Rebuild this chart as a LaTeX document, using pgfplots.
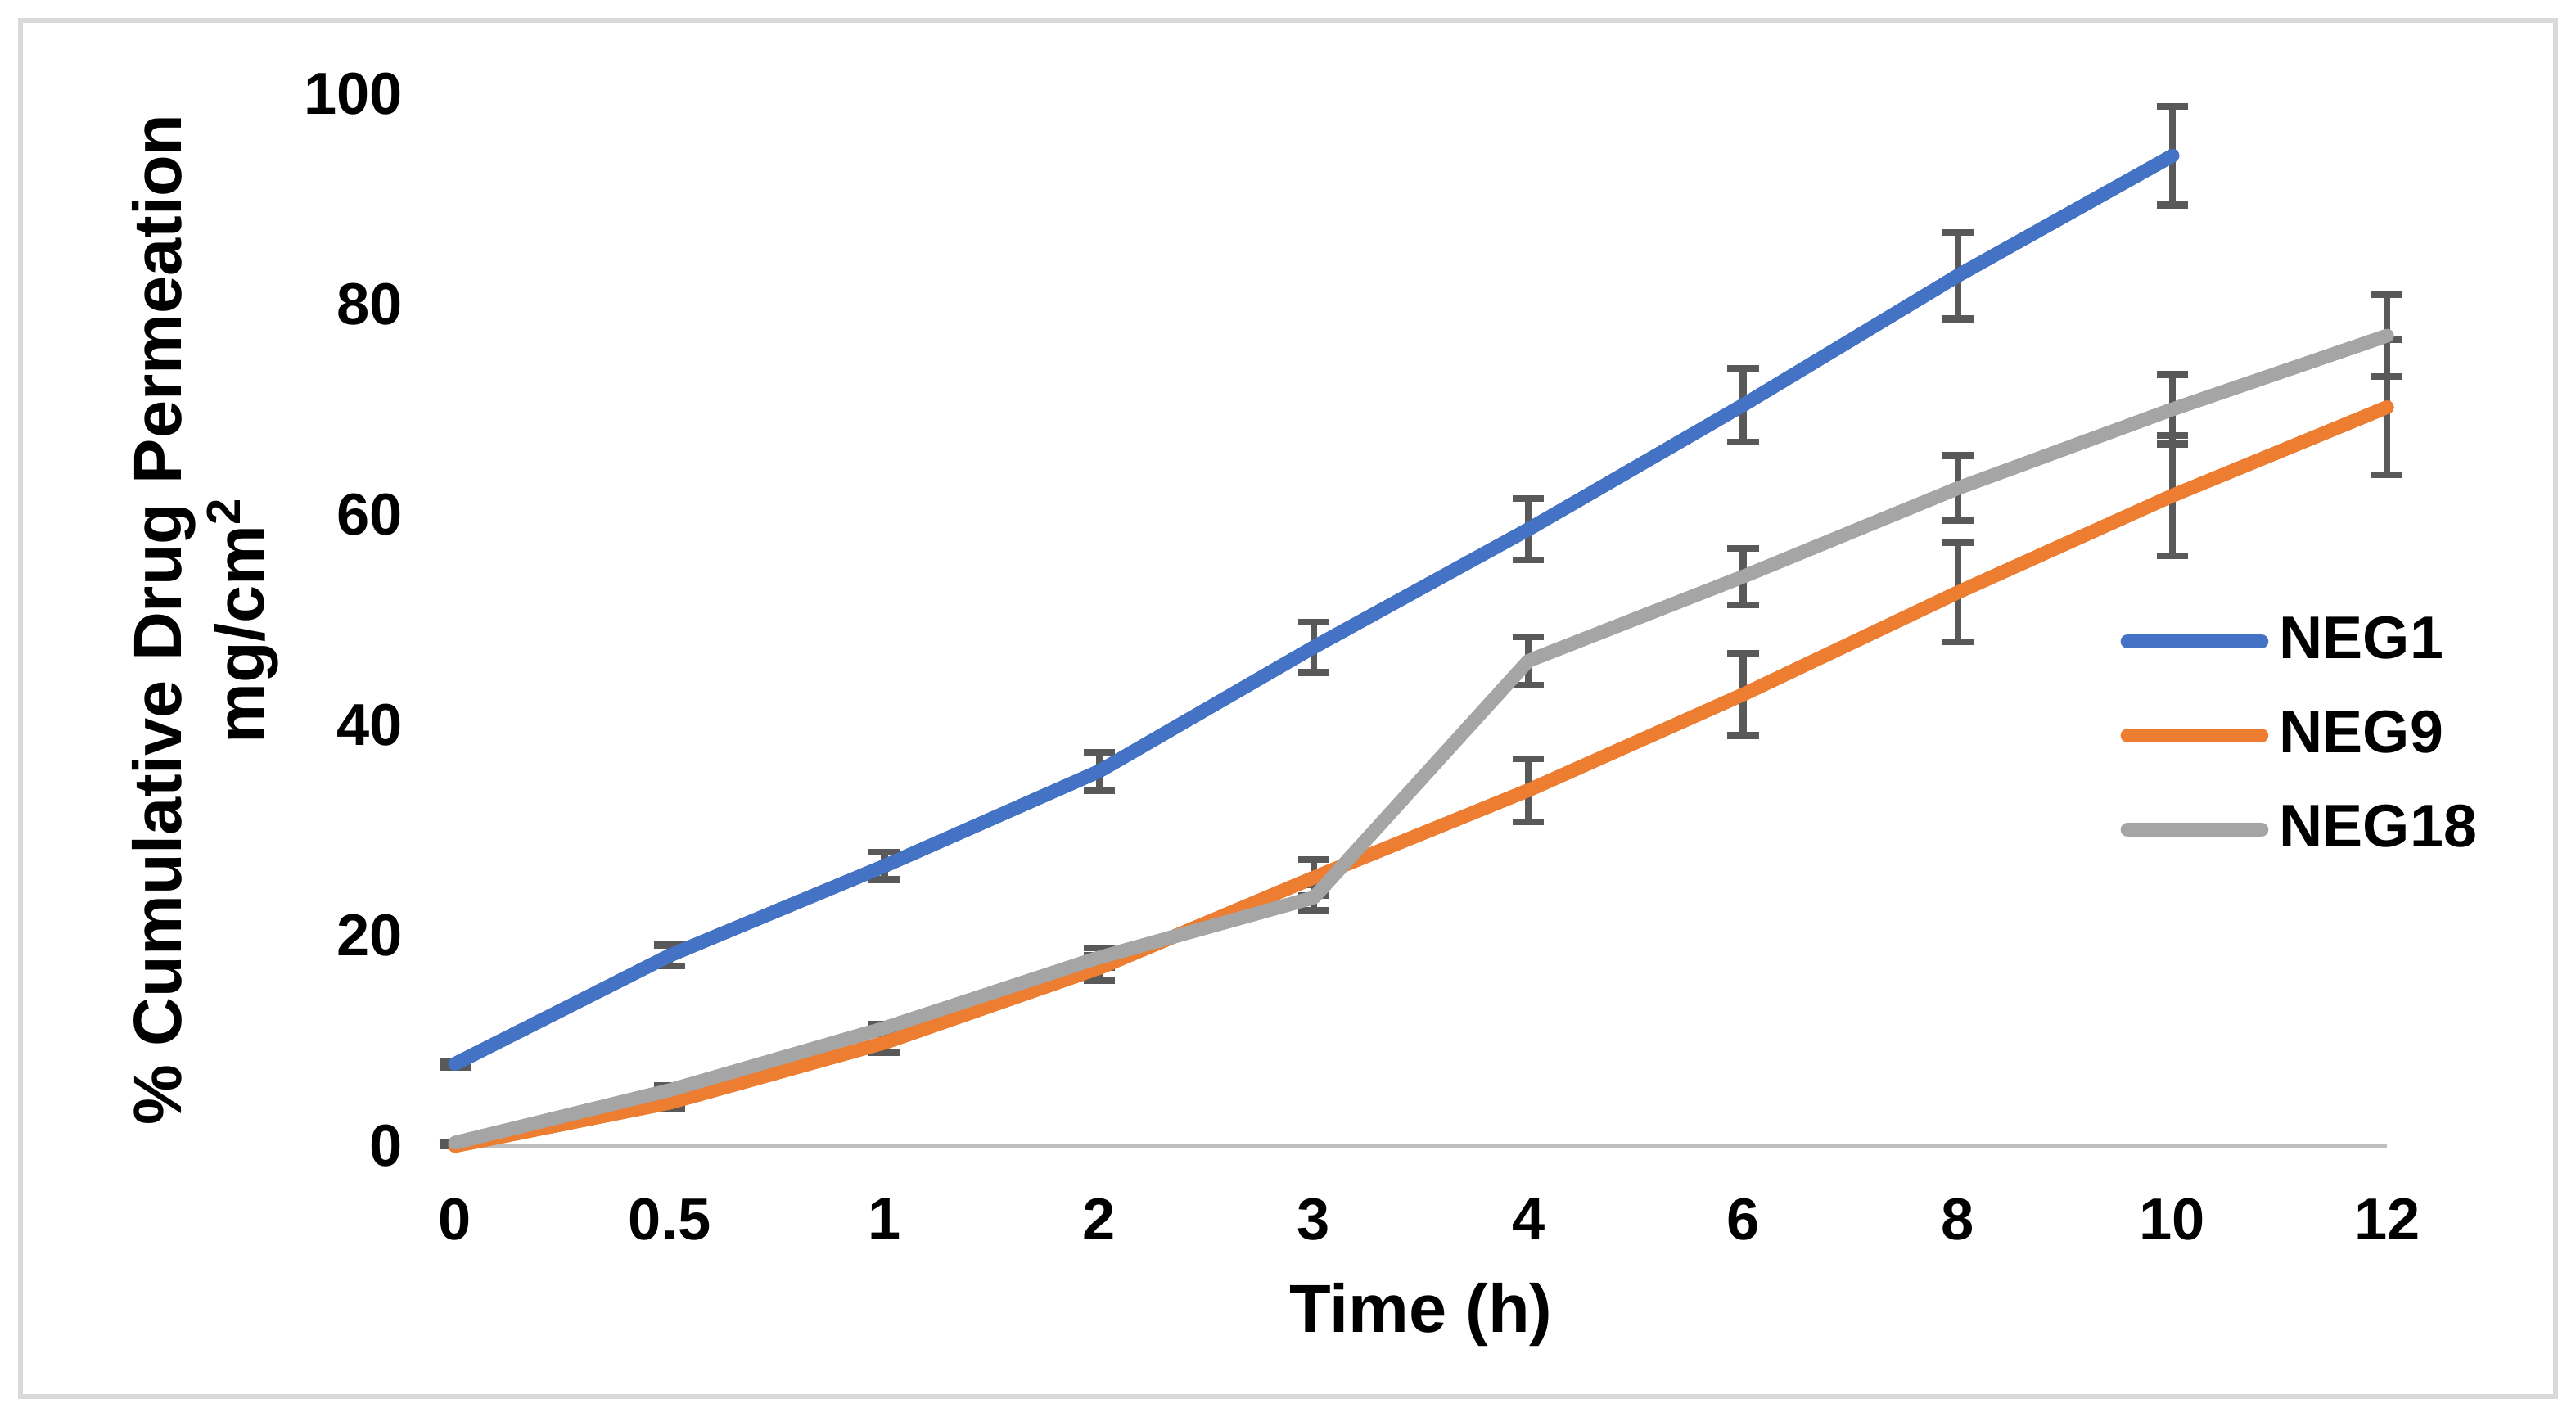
\documentclass[border=0pt]{standalone}
\usepackage{fontspec}
\setmainfont{Liberation Sans}
\usepackage{pgfplots}
\usepackage{pgfplotstable}
\pgfplotsset{compat=1.18}
\definecolor{negblue}{HTML}{4472C4}
\definecolor{negorange}{HTML}{ED7D31}
\definecolor{neggray}{HTML}{A5A5A5}
\definecolor{errgray}{HTML}{595959}
\definecolor{axisgray}{HTML}{BFBFBF}
\definecolor{framegray}{HTML}{D9D9D9}

% x is the category index: 0 0.5 1 2 3 4 6 8 10 12 h
\pgfplotstableread{
x y e
0 7.8 0.3
1 18.1 1.0
2 26.6 1.3
3 35.6 1.8
4 47.4 2.4
5 58.6 2.9
6 70.4 3.5
7 82.7 4.1
8 94.1 4.7
}\negone
\pgfplotstableread{
x y e
0 0.0 0.0
1 4.1 0.5
2 9.8 0.9
3 16.9 1.2
4 25.5 1.7
5 33.8 3.0
6 42.9 3.9
7 52.6 4.7
8 61.8 5.7
9 70.2 6.4
}\negnine
\pgfplotstableread{
x y e
0 0.3 0.0
1 5.3 0.4
2 11.2 0.4
3 17.9 0.9
4 23.6 1.2
5 46.1 2.3
6 54.1 2.7
7 62.5 3.1
8 70.0 3.3
9 77.0 3.9
}\negeighteen

\begin{document}
\begin{tikzpicture}
\begin{axis}[
  name=ax,
  scale only axis,
  width=352.8pt, height=192.15pt,
  xmin=0, xmax=9, ymin=0, ymax=100,
  clip=false,
  axis x line*=bottom, axis y line*=left,
  x axis line style={-, axisgray, line width=1pt},
  y axis line style={draw=none},
  major tick length=0pt,
  xtick={0,...,9},
  xticklabels={0,0.5,1,2,3,4,6,8,10,12},
  ytick={0,20,...,100},
  /pgf/number format/assume math mode=true,
  ticklabel style={font=\fontsize{10.8}{13}\selectfont\bfseries},
  xticklabel style={yshift=-6pt},
  yticklabel style={xshift=-6pt},
  xlabel={Time (h)},
  ylabel={\% Cumulative Drug Permeation\\mg/cm\textsuperscript{2}},
  label style={font=\fontsize{12.4}{15}\selectfont\bfseries, align=center},
  xlabel style={at={(axis description cs:0.5,-0.16)}, anchor=center},
  ylabel style={at={(axis description cs:-0.1293,0.5)}, anchor=center},
  legend style={at={(axis description cs:0.8615,0.39)}, anchor=west,
    draw=none, fill=none, inner sep=0pt, row sep=4pt,
    font=\fontsize{11}{13}\selectfont\bfseries},
  legend cell align=left,
  legend image code/.code={\draw[#1, line cap=round] (0pt,0pt) -- (24.5pt,0pt);},
  every axis plot/.append style={line width=2.5pt, line join=round, line cap=round, no markers},
  witherr/.style={error bars/.cd, y dir=both, y explicit,
    error bar style={errgray, line width=1.25pt, line cap=butt},
    error mark options={rotate=90, errgray, mark size=2.85pt, line width=1.25pt}},
]
% first pass: lines with error bars
\addplot[negblue, witherr] table[x=x, y=y, y error=e] {\negone};
\addplot[negorange, witherr] table[x=x, y=y, y error=e] {\negnine};
\addplot[neggray, witherr] table[x=x, y=y, y error=e] {\negeighteen};
\legend{NEG1,NEG9,NEG18}
% second pass: lines drawn again over the error bars
\addplot[negblue, forget plot] table[x=x, y=y] {\negone};
\addplot[negorange, forget plot] table[x=x, y=y] {\negnine};
\addplot[neggray, forget plot] table[x=x, y=y] {\negeighteen};
\end{axis}
\pgfresetboundingbox
\path[shift={(ax.south west)}] (-83.1pt,-49.35pt) rectangle (387.3pt,209.25pt);
\draw[framegray, line width=0.9pt, shift={(ax.south west)}] (-79.35pt,-45.75pt) rectangle (383.55pt,205.5pt);
\end{tikzpicture}
\end{document}
